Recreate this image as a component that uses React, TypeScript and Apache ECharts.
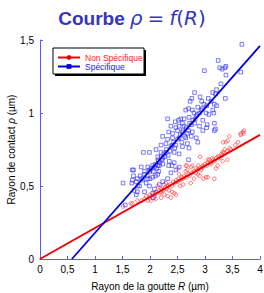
import React, { useEffect, useRef } from "react";
import * as echarts from "echarts";

const xTicks = [0, 0.5, 1, 1.5, 2, 2.5, 3, 3.5, 4];
const yTicks = [0, 0.5, 1, 1.5];

// Fitted lines (endpoints)
const fitNonSpec: number[][] = [[0, 0], [4, 0.85]];
const fitSpec: number[][] = [[0.58, 0], [4, 1.46]];

// Spécifique measurements (blue squares)
const specPoints: number[][] = [
  [3.67,1.47],[3.24,1.36],[3.38,1.32],[3.27,1.31],[3.31,1.30],[3.36,1.31],[2.99,1.29],[3.65,1.28],
  [3.38,1.26],[3.29,1.20],[3.21,1.16],[2.81,1.14],[3.14,1.14],[3.19,1.13],[3.37,1.10],[2.91,1.11],
  [2.94,1.08],[2.73,1.08],[2.76,1.10],[3.06,1.10],[3.11,1.08],[3.03,1.05],[3.17,1.06],[3.21,1.05],
  [2.87,1.04],[2.93,1.02],[3.14,1.02],[3.16,1.00],[2.65,1.02],[2.70,1.03],[2.77,1.02],[2.80,1.00],
  [3.02,1.00],[3.07,0.99],[2.56,0.96],[2.62,0.96],[2.71,0.97],[2.84,0.98],[2.32,0.96],[2.46,0.94],
  [2.52,0.95],[2.59,0.93],[2.96,0.95],[3.04,0.92],[3.17,0.93],[3.19,0.89],[2.38,0.91],[2.47,0.90],
  [2.53,0.91],[2.62,0.91],[2.75,0.92],[2.81,0.93],[2.90,0.91],[2.96,0.88],[3.03,0.90],[2.34,0.87],
  [2.41,0.86],[2.50,0.88],[2.59,0.87],[2.68,0.86],[2.77,0.87],[3.17,0.88],[2.23,0.84],[2.32,0.82],
  [2.41,0.83],[2.53,0.83],[2.65,0.83],[2.75,0.84],[2.84,0.83],[2.87,0.80],[2.20,0.78],[2.29,0.79],
  [2.38,0.77],[2.47,0.78],[2.59,0.77],[2.68,0.79],[2.71,0.76],[1.88,0.73],[1.99,0.73],[2.11,0.75],
  [2.20,0.73],[2.29,0.73],[2.44,0.73],[2.53,0.72],[2.70,0.68],[2.35,0.67],[2.23,0.69],[2.14,0.70],
  [1.84,0.63],[1.96,0.63],[2.05,0.64],[2.14,0.64],[2.23,0.65],[2.34,0.64],[2.40,0.64],
  [1.51,0.52],[1.55,0.37],[1.68,0.61],[1.70,0.57],[1.75,0.53],[1.67,0.52],[1.77,0.46],[1.71,0.47],
  [1.75,0.44],[1.70,0.61],[1.90,0.60],[1.99,0.61],[2.08,0.63],[2.17,0.64],[1.68,0.54],[1.77,0.55],
  [1.87,0.54],[1.96,0.55],[2.05,0.56],[2.14,0.58],[1.81,0.50],[1.99,0.50],[2.08,0.48],[2.17,0.51],
  [2.23,0.53],[2.32,0.55],[2.38,0.59],[2.47,0.61],[2.53,0.63],[2.44,0.66],[1.90,0.46],[2.05,0.45],
  [2.06,0.42],
  [1.85,0.55],[1.90,0.58],[1.95,0.57],[2.00,0.60],[2.02,0.62],[2.06,0.60],[2.10,0.65],[2.12,0.62],
  [2.15,0.67],[2.18,0.66],[2.20,0.70],[2.22,0.68],[2.25,0.72],[2.27,0.70],[2.30,0.75],[2.33,0.71],
  [2.36,0.74],[2.40,0.78],[2.43,0.80],[2.45,0.76],[2.50,0.82],[2.55,0.85],[2.58,0.80],[2.60,0.88],
  [2.63,0.84],[2.66,0.90],[2.70,0.88],[2.72,0.93],[2.78,0.95],[2.82,0.96],[2.86,0.99],[2.90,1.00],
  [2.95,1.03],[2.98,1.06],[1.93,0.52],[1.82,0.57],[1.78,0.50],[2.00,0.55],[2.10,0.57],[2.16,0.60],
];

// Non spécifique measurements (red circles)
const nonSpecPoints: number[][] = [
  [3.69,0.87],[3.65,0.86],[3.71,0.88],[3.44,0.84],[3.33,0.80],[2.91,0.70],[3.23,0.70],[3.26,0.69],
  [3.31,0.71],[3.08,0.68],[3.13,0.69],[3.17,0.67],[3.03,0.64],[2.96,0.63],[3.11,0.65],[2.67,0.64],
  [2.75,0.63],[2.77,0.64],[2.84,0.62],[2.88,0.64],[3.38,0.80],[3.41,0.81],[3.65,0.85],[3.70,0.86],
  [3.32,0.73],[3.36,0.75],[3.47,0.75],[3.05,0.68],[3.20,0.62],[3.23,0.64],[3.32,0.67],[3.41,0.68],
  [3.02,0.56],[2.97,0.55],[3.05,0.56],[3.17,0.55],[2.65,0.64],[2.50,0.62],[2.53,0.58],[2.74,0.52],
  [2.47,0.44],[2.44,0.45],[2.38,0.42],[2.32,0.43],[2.87,0.58],[2.26,0.44],[2.14,0.50],[2.17,0.47],
  [2.23,0.48],[2.26,0.51],[2.29,0.52],[2.20,0.46],[2.08,0.43],[2.02,0.40],[1.96,0.40],[1.93,0.43],
  [1.65,0.38],[2.14,0.68],[1.51,0.36],[1.68,0.38],[1.77,0.40],
  [1.85,0.40],[1.90,0.41],[1.98,0.42],[2.00,0.44],[2.05,0.44],[2.10,0.45],[2.12,0.46],[2.18,0.45],
  [2.20,0.48],[2.24,0.47],[2.28,0.49],[2.30,0.48],[2.33,0.50],[2.36,0.51],[2.40,0.50],[2.42,0.53],
  [2.45,0.52],[2.48,0.54],[2.50,0.53],[2.52,0.55],[2.55,0.54],[2.58,0.56],[2.60,0.55],[2.62,0.57],
  [2.66,0.56],[2.70,0.58],[2.72,0.57],[2.76,0.59],[2.80,0.60],[2.83,0.59],[2.86,0.61],[2.90,0.62],
  [2.93,0.61],[2.96,0.64],[3.00,0.65],[3.05,0.66],[3.10,0.66],[3.15,0.68],[3.20,0.69],[3.25,0.70],
  [3.30,0.72],[3.35,0.73],[3.40,0.74],[3.45,0.76],[3.55,0.78],[3.60,0.80],
  [2.35,0.47],[2.40,0.46],[2.55,0.50],[2.60,0.51],[2.65,0.60],[2.68,0.61],[2.80,0.55],[2.90,0.57],
  [2.20,0.42],[2.10,0.41],
];

const AXIS_COLOR = "#5a5aff";
const RED = "#ee0000";
const BLUE = "#0000dd";
const FONT = "Liberation Sans, Arial, sans-serif";
const fmt = (v: number) => String(v).replace(".", ",");

export default function App() {
  const ref = useRef<HTMLDivElement>(null);
  useEffect(() => {
    if (!ref.current) return;
    const chart = echarts.init(ref.current, undefined, { renderer: "svg" });
    const axisCommon = {
      axisLine: { lineStyle: { color: AXIS_COLOR, width: 1 } },
      axisTick: { inside: true, length: 3, lineStyle: { color: AXIS_COLOR } },
      splitLine: { show: false },
      axisLabel: {
        color: "#000",
        fontSize: 10,
        fontFamily: FONT,
        formatter: (v: number) => fmt(v),
      },
      nameTextStyle: {
        color: "#000",
        fontSize: 10,
        fontFamily: FONT,
        rich: {
          i: { fontStyle: "italic", fontSize: 10, color: "#000", fontFamily: FONT },
        },
      },
      nameLocation: "middle" as const,
      nameMoveOverlap: false,
    };
    chart.setOption({
      animation: false,
      backgroundColor: "#fff",
      title: {
        left: "center",
        top: 3,
        text: "{b|Courbe} {m|ρ} {n|=} {m|f}{n|(}{m|R}{n|)}",
        textStyle: {
          fontWeight: "normal",
          rich: {
            b: { fontSize: 19, fontWeight: "bold", color: "#3434c2", fontFamily: FONT },
            m: { fontSize: 20, fontWeight: "normal", fontStyle: "italic", color: "#3434c2", fontFamily: "DejaVu Sans, sans-serif" },
            n: { fontSize: 20, fontWeight: "normal", color: "#3434c2", fontFamily: "DejaVu Sans, sans-serif" },
          },
        },
      },
      grid: { left: 40, right: 4, top: 40, bottom: 34, containLabel: false, outerBoundsMode: "none" },
      xAxis: {
        type: "value",
        min: xTicks[0],
        max: xTicks[xTicks.length - 1],
        interval: 0.5,
        name: "Rayon de la goutte {i|R} (µm)",
        nameGap: 22,
        ...axisCommon,
        axisLabel: { ...axisCommon.axisLabel, margin: 5 },
      },
      yAxis: {
        type: "value",
        min: yTicks[0],
        max: yTicks[yTicks.length - 1],
        interval: 0.5,
        name: "Rayon de contact {i|ρ} (µm)",
        nameGap: 24,
        ...axisCommon,
        axisLabel: { ...axisCommon.axisLabel, margin: 6 },
      },
      legend: {
        orient: "vertical",
        left: 57,
        top: 53,
        padding: 0,
        itemGap: 0,
        itemWidth: 22,
        itemHeight: 6,
        textStyle: { fontSize: 8.5, lineHeight: 8, fontFamily: FONT },
        data: [
          { name: "Non Spécifique", textStyle: { color: "#ff2020" } },
          { name: "Spécifique", textStyle: { color: "#2020ff" } },
        ],
        z: 10,
      },
      graphic: [
        { type: "rect", shape: { x: 55, y: 50, width: 91, height: 26 }, style: { fill: "#000" }, z: 8 },
        { type: "rect", shape: { x: 53, y: 48, width: 91, height: 26 }, style: { fill: "#fff", stroke: "#000", lineWidth: 1 }, z: 9 },
      ],
      series: [
        {
          name: "Non Spécifique",
          type: "line",
          data: fitNonSpec,
          showSymbol: false,
          symbol: "circle",
          symbolSize: 4,
          lineStyle: { color: RED, width: 1.8 },
          itemStyle: { color: RED },
          z: 5,
        },
        {
          name: "Spécifique",
          type: "line",
          data: fitSpec,
          showSymbol: false,
          symbol: "rect",
          symbolSize: 4,
          lineStyle: { color: BLUE, width: 1.8 },
          itemStyle: { color: BLUE },
          z: 5,
        },
        {
          name: "ns-points",
          type: "scatter",
          data: nonSpecPoints,
          symbol: "circle",
          symbolSize: 3.6,
          itemStyle: { color: "rgba(0,0,0,0)", borderColor: "#ff2a2a", borderWidth: 0.8 },
          z: 3,
        },
        {
          name: "s-points",
          type: "scatter",
          data: specPoints,
          symbol: "rect",
          symbolSize: 3.6,
          itemStyle: { color: "rgba(0,0,0,0)", borderColor: "#3030ff", borderWidth: 0.8 },
          z: 3,
        },
      ],
    });
    return () => chart.dispose();
  }, []);
  return (
    <div
      ref={ref}
      style={{ position: "fixed", left: 0, top: 0, width: 264, height: 293 }}
    />
  );
}
